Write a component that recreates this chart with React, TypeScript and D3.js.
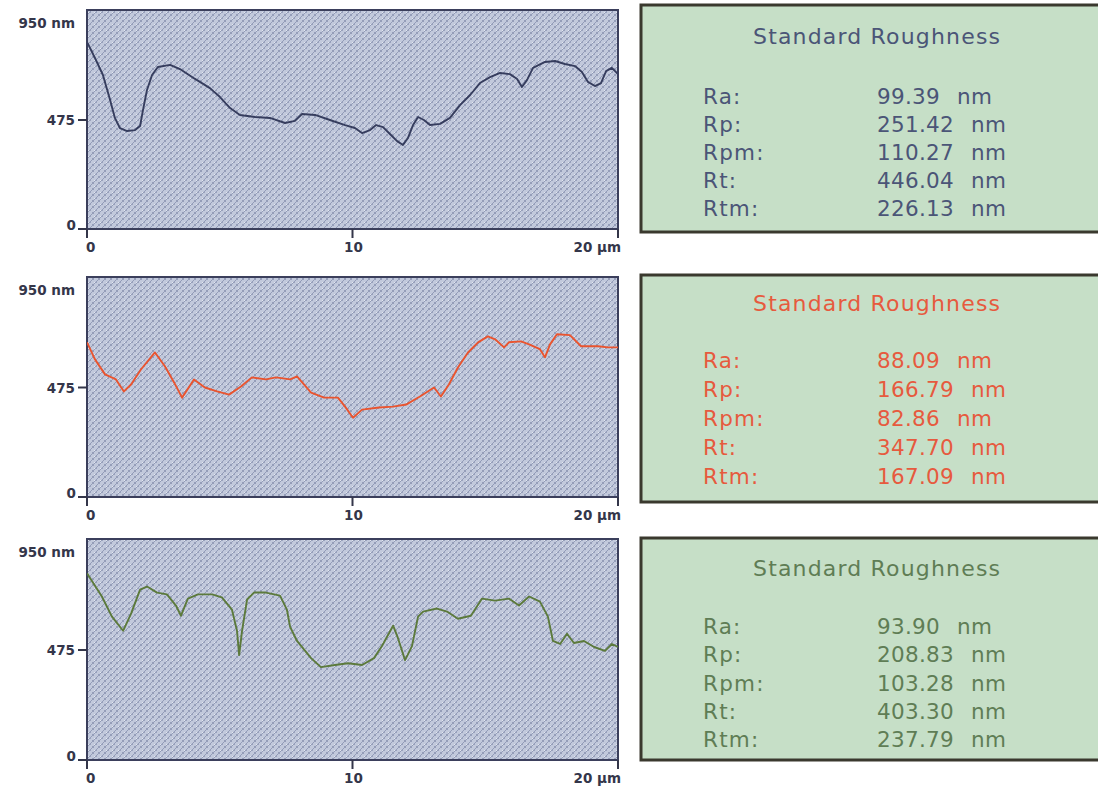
import React from "react";
import * as d3 from "d3";

// Surface profiles: [position µm, height nm]
const profileA: [number, number][] = [
  [0, 815], [0.3, 745], [0.6, 671], [0.87, 562], [1.05, 484], [1.24, 440], [1.51, 427], [1.81, 431],
  [2.0, 449], [2.11, 519], [2.26, 606], [2.45, 671], [2.67, 706], [3.13, 715], [3.5, 697], [4.07, 654],
  [4.63, 614], [5.01, 575], [5.39, 527], [5.76, 497], [6.33, 488], [6.89, 484], [7.46, 462], [7.83, 471],
  [8.1, 501], [8.59, 497], [9.15, 475], [9.72, 453], [10.09, 440], [10.36, 418], [10.66, 431], [10.89, 453],
  [11.15, 444], [11.41, 414], [11.68, 383], [11.9, 366], [12.09, 397], [12.28, 453], [12.47, 488], [12.69, 475],
  [12.92, 453], [13.3, 458], [13.67, 484], [14.05, 540], [14.43, 584], [14.8, 636], [15.18, 662], [15.56, 680],
  [15.93, 675], [16.2, 654], [16.38, 619], [16.57, 649], [16.8, 702], [17.25, 728], [17.63, 732], [18.0, 719],
  [18.38, 710], [18.64, 684], [18.87, 641], [19.13, 623], [19.36, 636], [19.55, 688], [19.77, 702], [20.0, 675],
];

const profileB: [number, number][] = [
  [0, 671], [0.3, 597], [0.68, 532], [1.09, 510], [1.39, 458], [1.66, 488], [2.03, 553], [2.56, 627],
  [2.94, 566], [3.28, 497], [3.58, 431], [4.03, 510], [4.44, 475], [4.9, 458], [5.35, 444], [5.8, 479],
  [6.21, 519], [6.74, 510], [7.12, 519], [7.65, 510], [7.91, 523], [8.44, 453], [8.93, 431], [9.45, 431],
  [9.72, 392], [10.02, 344], [10.36, 379], [11.0, 388], [11.53, 392], [12.02, 401], [12.54, 436], [13.07, 475],
  [13.33, 436], [13.63, 488], [13.97, 562], [14.35, 627], [14.73, 671], [15.1, 697], [15.37, 684], [15.71, 649],
  [15.89, 671], [16.35, 675], [16.65, 662], [17.06, 641], [17.25, 606], [17.44, 662], [17.7, 706], [18.19, 702],
  [18.61, 654], [19.25, 654], [19.62, 649], [20.0, 649],
];

const profileC: [number, number][] = [
  [0, 806], [0.56, 706], [0.94, 619], [1.36, 558], [1.66, 632], [2.0, 736], [2.26, 749], [2.64, 723],
  [3.01, 715], [3.35, 667], [3.54, 623], [3.8, 697], [4.18, 715], [4.71, 715], [5.08, 702], [5.46, 649],
  [5.65, 558], [5.73, 453], [5.84, 558], [6.03, 693], [6.29, 723], [6.74, 723], [7.27, 710], [7.53, 649],
  [7.65, 575], [7.91, 514], [8.44, 440], [8.81, 401], [9.34, 410], [9.83, 418], [10.36, 410], [10.81, 440],
  [11.11, 492], [11.53, 580], [11.71, 527], [11.98, 431], [12.24, 492], [12.47, 619], [12.66, 641], [13.18, 654],
  [13.56, 641], [13.97, 610], [14.46, 623], [14.88, 697], [15.37, 688], [15.89, 697], [16.27, 667], [16.65, 706],
  [17.06, 684], [17.36, 619], [17.55, 514], [17.82, 501], [18.08, 545], [18.34, 505], [18.72, 514], [19.1, 488],
  [19.51, 471], [19.77, 501], [20.0, 488],
];

// Roughness parameters per profile
const paramNames = ["Ra:", "Rp:", "Rpm:", "Rt:", "Rtm:"];
const statsA = ["99.39", "251.42", "110.27", "446.04", "226.13"];
const statsB = ["88.09", "166.79", "82.86", "347.70", "167.09"];
const statsC = ["93.90", "208.83", "103.28", "403.30", "237.79"];

const yTicks = [0, 475, 950];
const xTicks = [0, 10, 20];

const W = 1098;
const H = 789;
const PLOT_L = 87;
const PLOT_R = 618;

interface RowSpec {
  data: [number, number][];
  stats: string[];
  line: string;
  text: string;
  top: number;
  bottom: number;
  boxTop: number;
  boxBottom: number;
  titleY: number;
  rowY: number;
  rowGap: number;
}

const rows: RowSpec[] = [
  { data: profileA, stats: statsA, line: "#363d5e", text: "#4b5577", top: 10, bottom: 229, boxTop: 5, boxBottom: 232, titleY: 36, rowY: 96, rowGap: 28 },
  { data: profileB, stats: statsB, line: "#e9542f", text: "#e65a3e", top: 277, bottom: 497, boxTop: 275, boxBottom: 502, titleY: 303, rowY: 360, rowGap: 29 },
  { data: profileC, stats: statsC, line: "#5c7a3c", text: "#5f7d55", top: 539, bottom: 760, boxTop: 538, boxBottom: 760, titleY: 568, rowY: 626, rowGap: 28.3 },
];

const axisFont = "'DejaVu Sans', Verdana, sans-serif";
const panelFont = "'DejaVu Sans', Verdana, sans-serif";
const axisColor = "#34364a";
const frameColor = "#3b3f5c";

function ProfilePlot({ spec, idx }: { spec: RowSpec; idx: number }) {
  const x = d3.scaleLinear().domain([0, 20]).range([PLOT_L, PLOT_R]);
  const y = d3.scaleLinear().domain([0, 950]).range([spec.bottom, spec.top + 1]);
  const line = d3
    .line<[number, number]>()
    .x((d) => x(d[0]))
    .y((d) => y(d[1]))
    .curve(d3.curveLinear);

  const lbl = { fontFamily: axisFont, fontWeight: "bold" as const, fontSize: 13.5, fill: axisColor };

  return (
    <g>
      <rect
        x={PLOT_L}
        y={spec.top}
        width={PLOT_R - PLOT_L}
        height={spec.bottom - spec.top}
        fill="url(#texture)"
        stroke={frameColor}
        strokeWidth={2}
      />
      <clipPath id={`clip${idx}`}>
        <rect x={PLOT_L} y={spec.top} width={PLOT_R - PLOT_L} height={spec.bottom - spec.top} />
      </clipPath>
      <path
        d={line(spec.data) || ""}
        fill="none"
        stroke={spec.line}
        strokeWidth={1.9}
        strokeLinejoin="round"
        clipPath={`url(#clip${idx})`}
      />
      {/* y ticks */}
      {yTicks
        .filter((t) => t < 950)
        .map((t) => (
          <line key={`yt${t}`} x1={PLOT_L - 9} x2={PLOT_L} y1={y(t)} y2={y(t)} stroke={axisColor} strokeWidth={2} />
        ))}
      {/* x ticks */}
      {xTicks.map((t) => (
        <line key={`xt${t}`} x1={x(t)} x2={x(t)} y1={spec.bottom} y2={spec.bottom + 9} stroke={axisColor} strokeWidth={2} />
      ))}
      {/* y labels */}
      <text x={75} y={spec.top + 18} textAnchor="end" {...lbl}>
        {`${yTicks[2]} nm`}
      </text>
      <text x={75} y={y(yTicks[1]) + 5} textAnchor="end" {...lbl}>
        {yTicks[1]}
      </text>
      <text x={76} y={y(yTicks[0]) + 1} textAnchor="end" {...lbl}>
        {yTicks[0]}
      </text>
      {/* x labels */}
      <text x={x(xTicks[0]) - 1} y={spec.bottom + 23} textAnchor="start" {...lbl}>
        {xTicks[0]}
      </text>
      <text x={x(xTicks[1]) + 1} y={spec.bottom + 23} textAnchor="middle" {...lbl}>
        {xTicks[1]}
      </text>
      <text x={x(xTicks[2]) + 3} y={spec.bottom + 23} textAnchor="end" {...lbl}>
        {`${xTicks[2]} µm`}
      </text>
    </g>
  );
}

function StatsPanel({ spec }: { spec: RowSpec }) {
  return (
    <g>
      <rect
        x={641}
        y={spec.boxTop}
        width={500}
        height={spec.boxBottom - spec.boxTop}
        fill="#c6dfc7"
        stroke="#3a392e"
        strokeWidth={3}
      />
      <text
        x={753}
        y={spec.titleY + 8}
        textLength={247}
        lengthAdjust="spacing"
        fontFamily={panelFont}
        fontSize={22}
        fill={spec.text}
      >
        Standard Roughness
      </text>
      {paramNames.map((n, i) => (
        <g key={n}>
          <text
            x={703}
            y={spec.rowY + i * spec.rowGap + 8}
            fontFamily={panelFont}
            fontSize={21.5}
            letterSpacing={1.2}
            fill={spec.text}
          >
            {n}
          </text>
          <text
            x={877}
            y={spec.rowY + i * spec.rowGap + 8}
            fontFamily={panelFont}
            fontSize={21.5}
            letterSpacing={0.3}
            fill={spec.text}
          >
            {spec.stats[i]}
            <tspan dx={17}>nm</tspan>
          </text>
        </g>
      ))}
    </g>
  );
}

export default function App() {
  return (
    <svg
      width={W}
      height={H}
      viewBox={`0 0 ${W} ${H}`}
      style={{ position: "absolute", left: 0, top: 0, background: "#ffffff" }}
    >
      <defs>
        <pattern id="texture" width={6} height={6} patternUnits="userSpaceOnUse">
          <rect width={6} height={6} fill="#c2c9dc" />
          <path d="M0,6 L6,0" stroke="#8790ae" strokeWidth={0.8} />
          <path d="M2,2 L4,4" stroke="#8a93b0" strokeWidth={0.8} />
          <rect x={0} y={0} width={1} height={1} fill="#9aa2bd" />
          <rect x={4} y={0} width={1} height={1} fill="#e4e8f0" />
        </pattern>
      </defs>
      <rect width={W} height={H} fill="#ffffff" />
      {rows.map((r, i) => (
        <g key={i}>
          <ProfilePlot spec={r} idx={i} />
          <StatsPanel spec={r} />
        </g>
      ))}
    </svg>
  );
}
